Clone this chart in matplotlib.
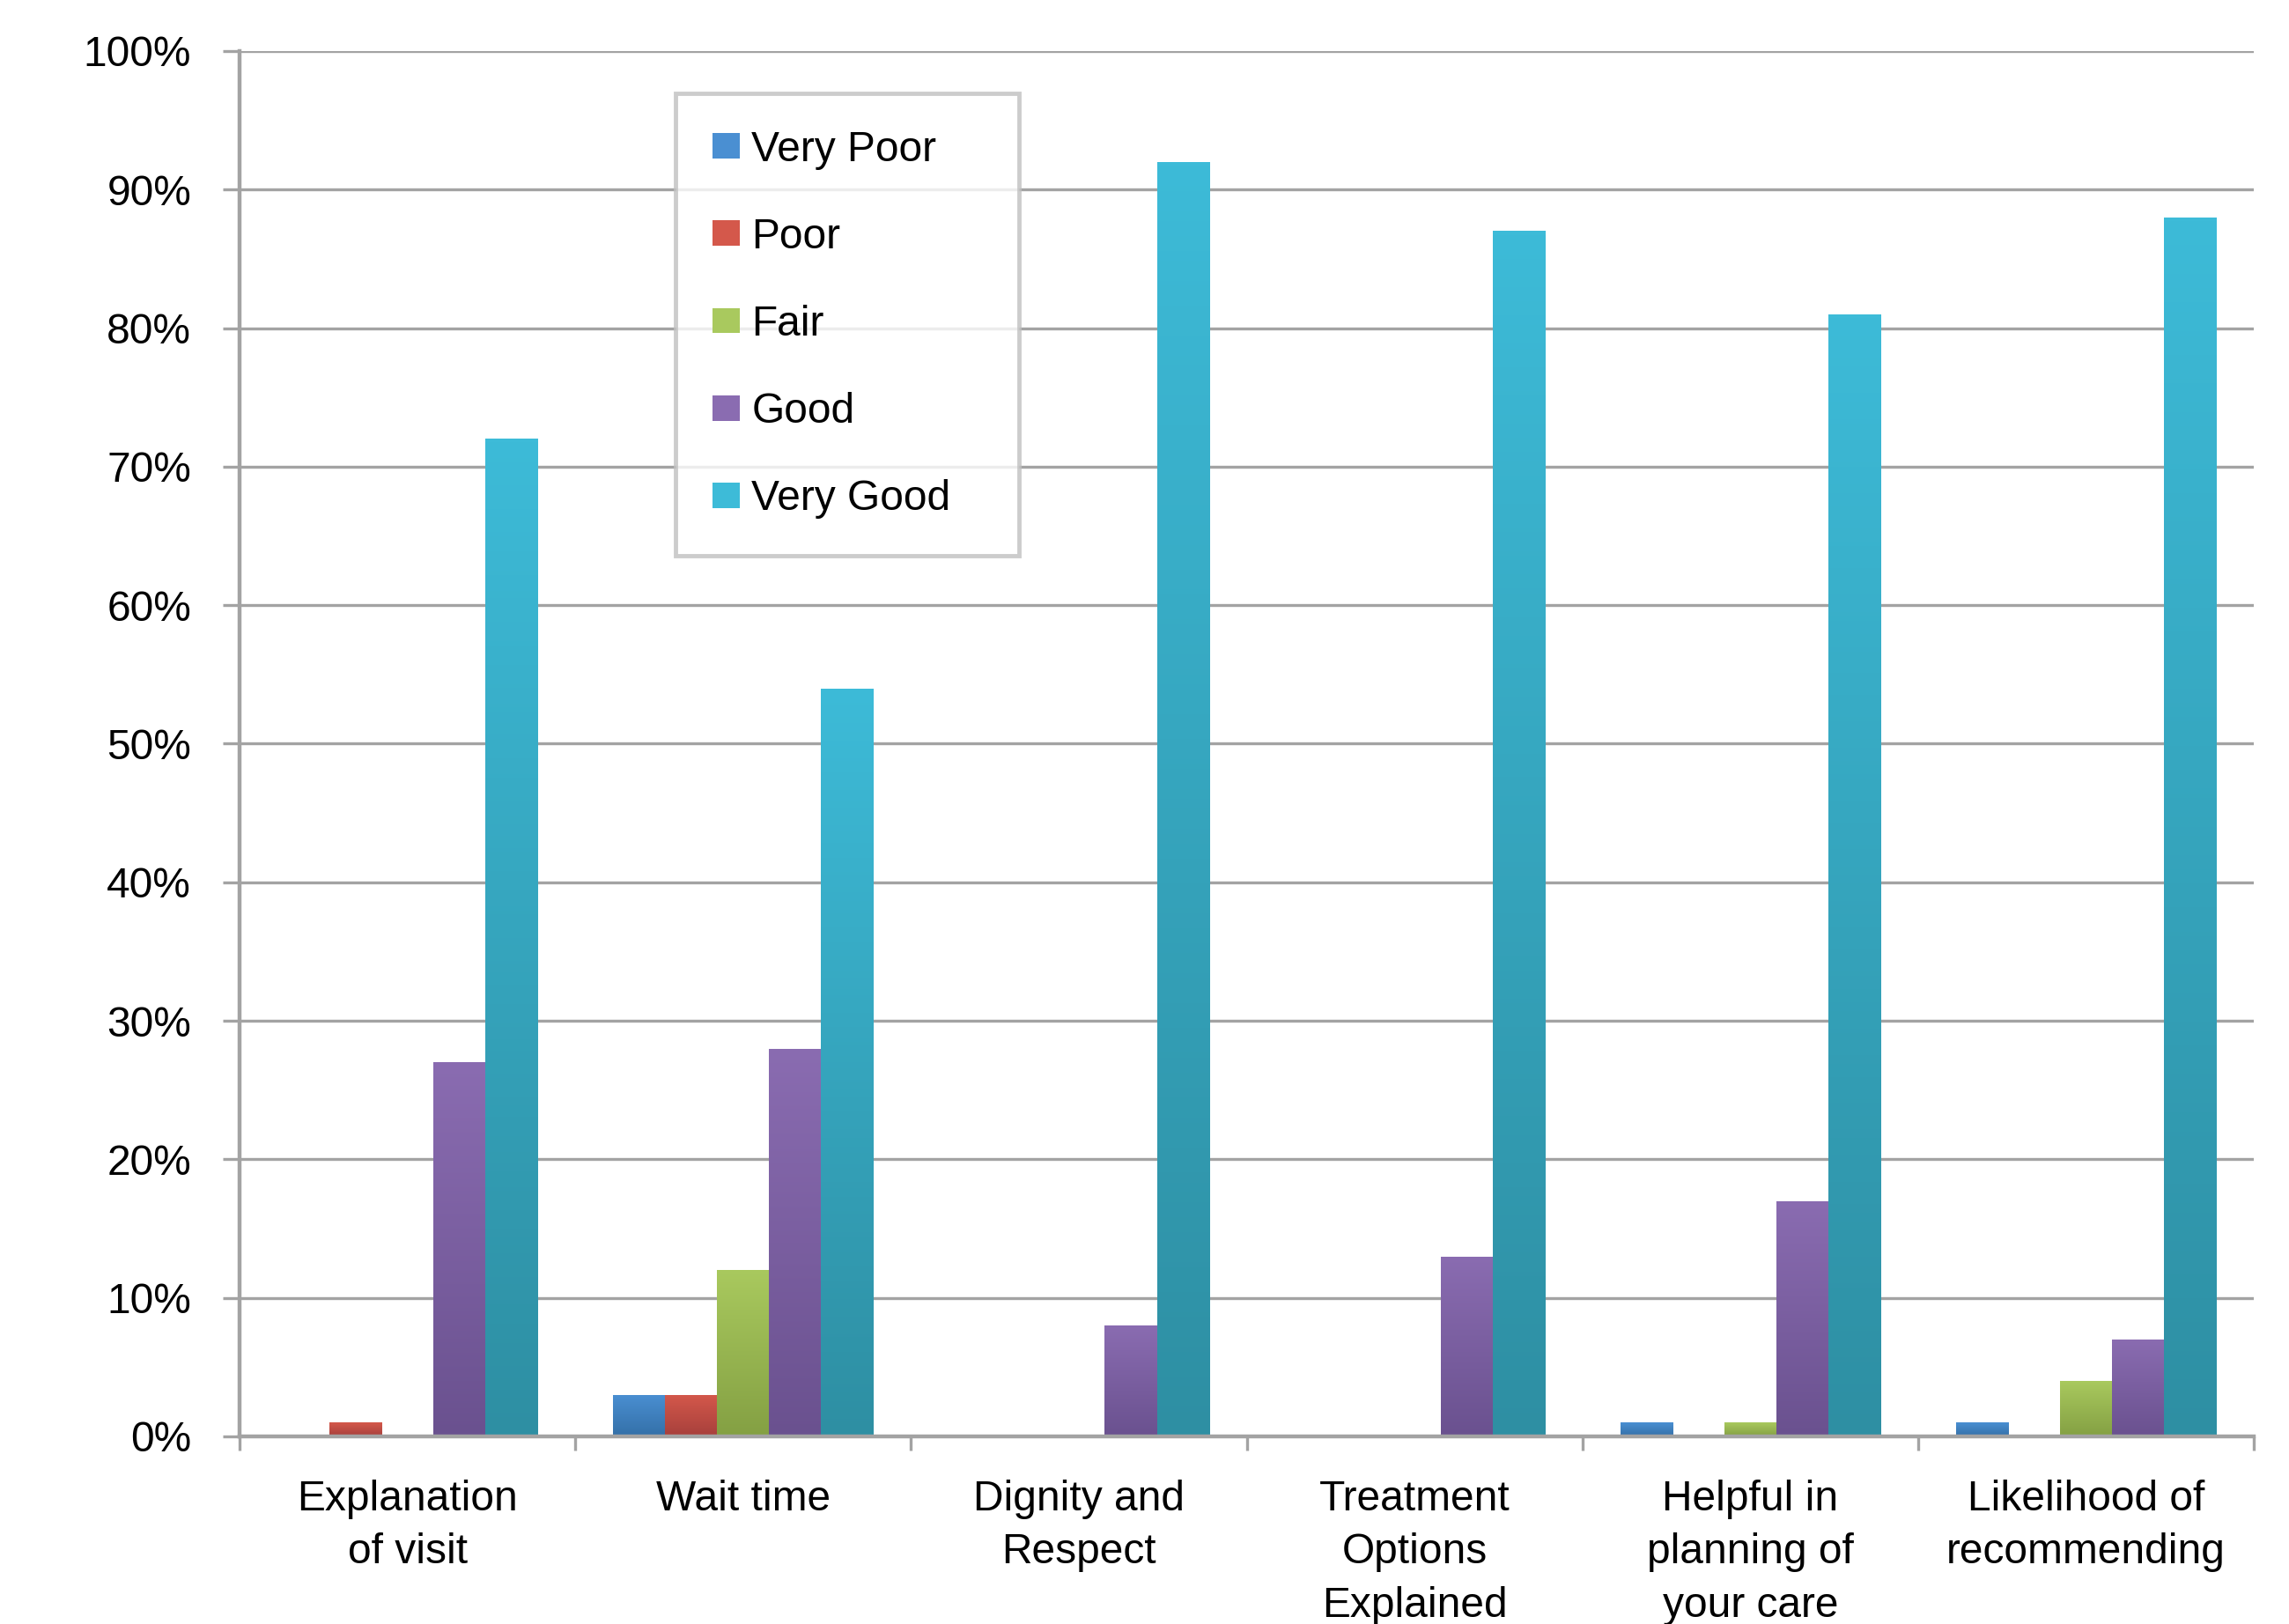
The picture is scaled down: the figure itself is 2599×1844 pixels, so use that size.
import numpy as np
import matplotlib.pyplot as plt
from matplotlib.colors import LinearSegmentedColormap
from matplotlib.ticker import PercentFormatter

plt.rcParams['font.family'] = ['Liberation Sans', 'DejaVu Sans']

categories = ["Explanation\nof visit", "Wait time", "Dignity and\nRespect",
              "Treatment\nOptions\nExplained", "Helpful in\nplanning of\nyour care",
              "Likelihood of\nrecommending"]
ratings = ["Very Poor", "Poor", "Fair", "Good", "Very Good"]

very_poor = [0, 3, 0, 0, 1, 1]
poor = [1, 3, 0, 0, 0, 0]
fair = [0, 12, 0, 0, 1, 4]
good = [27, 28, 8, 13, 17, 7]
very_good = [72, 54, 92, 87, 81, 88]

series = [very_poor, poor, fair, good, very_good]

# (top, bottom) colours of the gradient fill for each rating
grad_colors = [("#4a8fd2", "#3470a8"),
               ("#d4584b", "#a7403c"),
               ("#a9c95e", "#84a043"),
               ("#8a6cb1", "#6a518f"),
               ("#3dbbd8", "#2e8fa3")]

fig = plt.figure(figsize=(25.99, 18.44), dpi=100)
ax = fig.add_axes([0.10466, 0.11551, 0.87995, 0.85304])

x = np.arange(len(categories))
width = 0.155
ramp = np.linspace(0, 1, 256).reshape(-1, 1)

containers = []
for i, vals in enumerate(series):
    top, bottom = grad_colors[i]
    bars = ax.bar(x + (i - 2) * width, vals, width, color=top, label=ratings[i],
                  linewidth=0, zorder=2)
    containers.append(bars)
    cmap = LinearSegmentedColormap.from_list(ratings[i], [bottom, top])
    for rect in bars:
        h = rect.get_height()
        if h <= 0:
            continue
        x0 = rect.get_x()
        im = ax.imshow(ramp, cmap=cmap, aspect='auto', origin='lower',
                       extent=[x0, x0 + rect.get_width(), 0, h], zorder=2.1)
        im.set_clip_path(rect)

ax.set_xlim(-0.5, len(categories) - 0.5)
ax.set_ylim(0, 100)
ax.set_yticks(np.arange(0, 101, 10))
ax.yaxis.set_major_formatter(PercentFormatter(xmax=100, decimals=0))

ax.set_xticks(x)
ax.set_xticklabels(categories, linespacing=1.45)
ax.set_xticks(np.arange(-0.5, len(categories), 1), minor=True)

gray = "#a3a3a3"
ax.set_axisbelow(True)
ax.yaxis.grid(True, color=gray, linewidth=2.4)
for side in ["top", "right"]:
    ax.spines[side].set_visible(False)
for side in ["left", "bottom"]:
    ax.spines[side].set_color(gray)
    ax.spines[side].set_linewidth(3.2)

ax.tick_params(axis='y', length=13.5, width=2.4, color=gray, labelsize=34.5, pad=26)
ax.tick_params(axis='x', which='major', length=0, labelsize=34.5, pad=35)
ax.tick_params(axis='x', which='minor', length=11.5, width=2.4, color=gray)

leg = ax.legend(handles=containers, loc='upper left',
                bbox_to_anchor=(0.2951, 0.6583, 0.1500, 0.2842),
                bbox_transform=fig.transFigure, mode='expand', borderaxespad=0,
                fontsize=34.5, fancybox=False, frameon=True, labelspacing=1.13,
                handlelength=0.65, handleheight=0.55, handletextpad=0.28,
                borderpad=0.87)
leg.get_frame().set_edgecolor("#c0c0c0")
leg.get_frame().set_linewidth(3.5)

fig.savefig("out.png", dpi=100)
